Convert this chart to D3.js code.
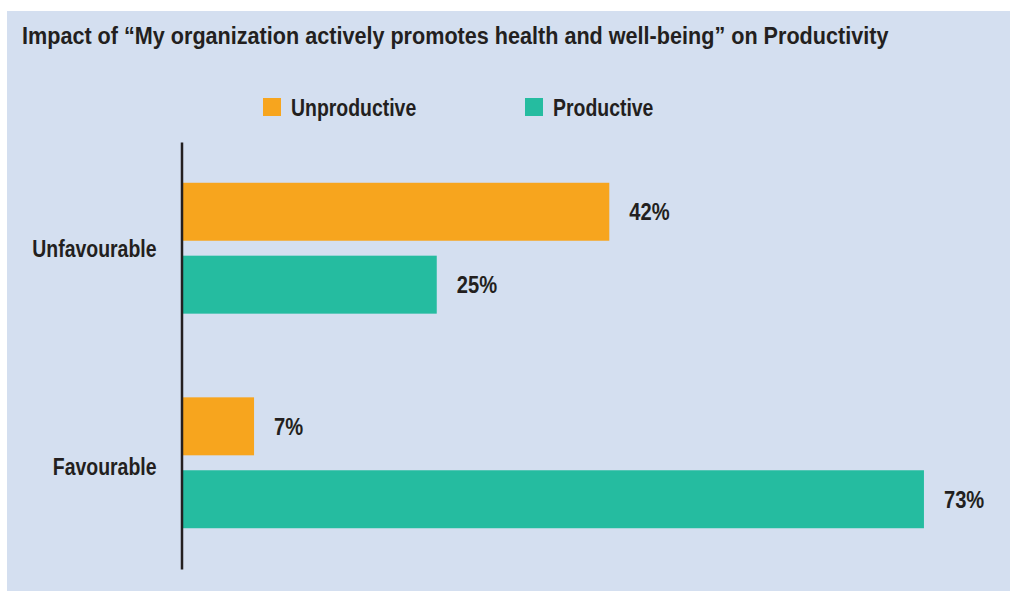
<!DOCTYPE html>
<html>
<head>
<meta charset="utf-8">
<script src="https://cdn.jsdelivr.net/npm/d3@7"></script>
<style>
  body { margin: 0; background: #fff; }
  text { font-family: "Liberation Sans", Arial, sans-serif; font-weight: bold; fill: #231f20; }
</style>
</head>
<body>
<div id="chart"></div>
<script>
// Data
var categories = ["Unfavourable", "Favourable"];
var series = ["Unproductive", "Productive"];
var unproductive = [42, 7];
var productive = [25, 73];
var colors = ["#f7a51e", "#25bca0"];

var width = 1010, height = 591;

// no condensed font installed, so squeeze text horizontally
function condense(sel, sx) {
    sel.each(function () {
        var t = d3.select(this);
        var tx = +t.attr("x") || 0, ty = +t.attr("y") || 0;
        t.attr("x", 0).attr("y", 0)
         .attr("transform", "translate(" + tx + "," + ty + ") scale(" + sx + ",1)");
    });
}

var svg = d3.select("#chart")
            .append("svg")
            .attr("width", width)
            .attr("height", height);

// panel
svg.append("rect")
   .attr("x", 7).attr("y", 11)
   .attr("width", width - 7).attr("height", height - 11)
   .attr("fill", "#d4dff0");

svg.append("text")
   .attr("x", 22).attr("y", 44)
   .style("font-size", "24px")
   .text("Impact of \u201cMy organization actively promotes health and well-being\u201d on Productivity")
   .call(condense, 0.9);

// Scales
var x = d3.scaleLinear().domain([0, 100]).range([183, 183 + 1015]);

var y0 = d3.scaleBand()
           .domain(categories)
           .range([142, 569])
           .paddingInner(0.39)
           .paddingOuter(0.19);

var y1 = d3.scaleBand()
           .domain(series)
           .range([0, y0.bandwidth()])
           .paddingInner(0.205);

var color = d3.scaleOrdinal().domain(series).range(colors);

var rows = categories.map(function (c, i) {
    return { cat: c, vals: [
        { key: "Unproductive", value: unproductive[i] },
        { key: "Productive", value: productive[i] }
    ]};
});

var groups = svg.selectAll("g.group")
                .data(rows)
                .enter()
                .append("g")
                .attr("class", "group")
                .attr("transform", function (d) { return "translate(0," + y0(d.cat) + ")"; });

groups.selectAll("rect")
      .data(function (d) { return d.vals; })
      .enter()
      .append("rect")
      .attr("x", x(0))
      .attr("y", function (d) { return y1(d.key); })
      .attr("width", function (d) { return x(d.value) - x(0); })
      .attr("height", y1.bandwidth())
      .attr("fill", function (d) { return color(d.key); });

groups.selectAll("text.val")
      .data(function (d) { return d.vals; })
      .enter()
      .append("text")
      .attr("class", "val")
      .attr("x", function (d) { return x(d.value) + 20; })
      .attr("y", function (d) { return y1(d.key) + y1.bandwidth() / 2; })
      .attr("dy", "0.36em")
      .style("font-size", "24px")
      .text(function (d) { return d.value + "%"; })
      .call(condense, 0.84);

// Axis
var axis = svg.append("g")
              .attr("transform", "translate(" + (x(0) - 1.5) + ",0)")
              .call(d3.axisLeft(y0).tickSize(0).tickPadding(25).tickSizeOuter(0));

axis.attr("font-family", null).attr("font-size", null);
axis.select(".domain").attr("stroke", "#231f20").attr("stroke-width", 2.5);
axis.selectAll(".tick text")
    .attr("dy", "0.36em")
    .style("font-size", "24px")
    .attr("fill", "#231f20")
    .call(condense, 0.81);
axis.selectAll(".tick").filter(function (d) { return d === "Favourable"; })
    .select("text").attr("dy", "0.5em");

// Legend
var legendX = [263, 525];
var legend = svg.selectAll("g.legend")
                .data(series)
                .enter()
                .append("g")
                .attr("class", "legend")
                .attr("transform", function (d, i) { return "translate(" + legendX[i] + ",98)"; });

legend.append("rect")
      .attr("width", 18).attr("height", 18)
      .attr("fill", function (d) { return color(d); });

legend.append("text")
      .attr("x", 28).attr("y", 9)
      .attr("dy", "0.36em")
      .style("font-size", "24px")
      .text(function (d) { return d; })
      .call(condense, 0.81);
</script>
</body>
</html>
